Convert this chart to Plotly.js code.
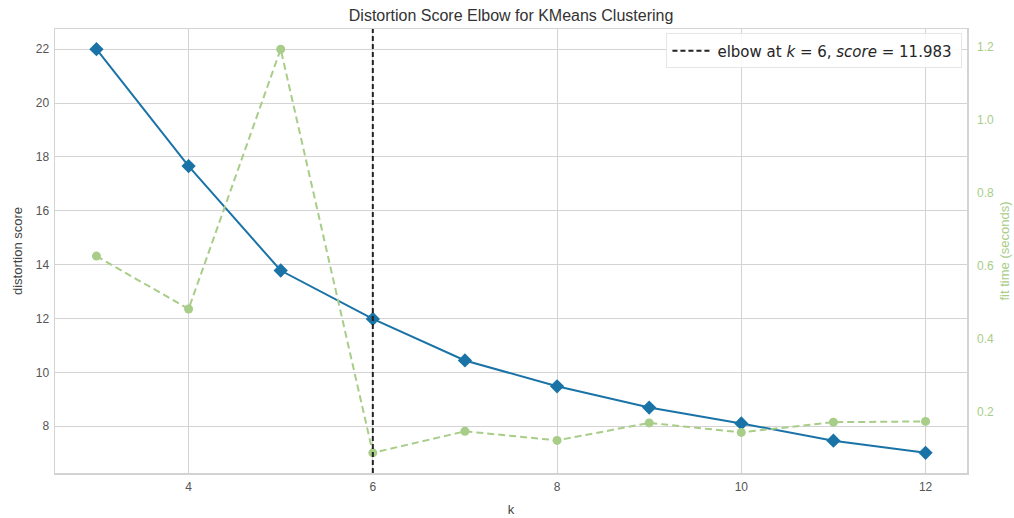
<!DOCTYPE html>
<html>
<head>
<meta charset="utf-8">
<script src="https://cdn.plot.ly/plotly-3.0.1.min.js"></script>
<style>html,body{margin:0;padding:0;background:#fff;}#chart{width:1014px;height:518px;}</style>
</head>
<body>
<div id="chart"></div>
<script>
const kValues = [3, 4, 5, 6, 7, 8, 9, 10, 11, 12];
const distortionScores = [22.0, 17.66, 13.78, 11.983, 10.44, 9.48, 8.69, 8.10, 7.46, 7.01];
const fitTimes = [0.626, 0.481, 1.193, 0.087, 0.146, 0.121, 0.169, 0.143, 0.171, 0.173];
const elbowK = 6;
const elbowScore = 11.983;

function padded(arr) {
  const mn = Math.min(...arr), mx = Math.max(...arr);
  const p = 0.05 * (mx - mn);
  return [mn - p, mx + p];
}

const fam = '"Liberation Sans", Arial, sans-serif';
const tickFont = {family: fam, size: 12, color: '#555555'};
const titleFont = {family: fam, size: 13, color: '#444444'};
const green = '#a8cd88';
const blue = '#1a73a6';

const traces = [
  {
    x: kValues, y: distortionScores, type: 'scatter', mode: 'lines+markers',
    line: {color: blue, width: 2},
    marker: {symbol: 'diamond', size: 11, color: blue},
    showlegend: false, xaxis: 'x', yaxis: 'y'
  },
  {
    x: kValues, y: fitTimes, type: 'scatter', mode: 'lines+markers',
    line: {color: green, width: 2, dash: '7px,4px'},
    marker: {symbol: 'circle', size: 9, color: green},
    showlegend: false, xaxis: 'x', yaxis: 'y2'
  }
];

const layout = {
  width: 1014, height: 518,
  margin: {l: 55, r: 47, t: 29, b: 45},
  paper_bgcolor: '#ffffff', plot_bgcolor: '#ffffff',
  title: {
    text: 'Distortion Score Elbow for KMeans Clustering',
    font: {family: fam, size: 16, color: '#333333'},
    x: 0.504, xanchor: 'center', y: 0.97, yanchor: 'middle'
  },
  xaxis: {
    range: padded(kValues), dtick: 2, tick0: 0,
    showgrid: true, gridcolor: '#d3d3d3', gridwidth: 1,
    zeroline: false, showline: true, linecolor: '#d3d3d3', linewidth: 1.5, mirror: true,
    ticks: '', tickfont: tickFont, ticklabelstandoff: 2,
    title: {text: 'k', font: titleFont, standoff: 12}
  },
  yaxis: {
    range: padded(distortionScores), dtick: 2, tick0: 0,
    showgrid: true, gridcolor: '#d3d3d3', gridwidth: 1,
    zeroline: false, showline: true, linecolor: '#d3d3d3', linewidth: 1.5, mirror: true,
    ticks: '', tickfont: tickFont, ticklabelstandoff: 2,
    title: {text: 'distortion score', font: titleFont, standoff: 10}
  },
  yaxis2: {
    overlaying: 'y', side: 'right',
    range: padded(fitTimes), dtick: 0.2, tick0: 0, tickformat: '.1f',
    showgrid: false, zeroline: false, showline: false,
    ticks: '', tickfont: {family: fam, size: 12, color: green}, ticklabelstandoff: 9,
    title: {text: 'fit time (seconds)', font: {family: fam, size: 13, color: green}, standoff: 6}
  },
  shapes: [{
    type: 'line', xref: 'x', yref: 'paper', x0: elbowK, x1: elbowK, y0: 0, y1: 1,
    line: {color: '#222222', width: 2, dash: '5px,3px'},
    showlegend: true,
    name: 'elbow at <i>k</i> = ' + elbowK + ', <i>score</i> = ' + elbowScore.toFixed(3) + '\u00a0'
  }],
  showlegend: true,
  legend: {
    x: 0.995, y: 0.99, xanchor: 'right', yanchor: 'top',
    bgcolor: 'rgba(255,255,255,0.85)', bordercolor: '#e6e6e6', borderwidth: 1,
    font: {family: '"DejaVu Sans", sans-serif', size: 15, color: '#262626'},
    itemwidth: 40
  }
};

Plotly.newPlot('chart', traces, layout, {displayModeBar: false, staticPlot: true});
</script>
</body>
</html>
